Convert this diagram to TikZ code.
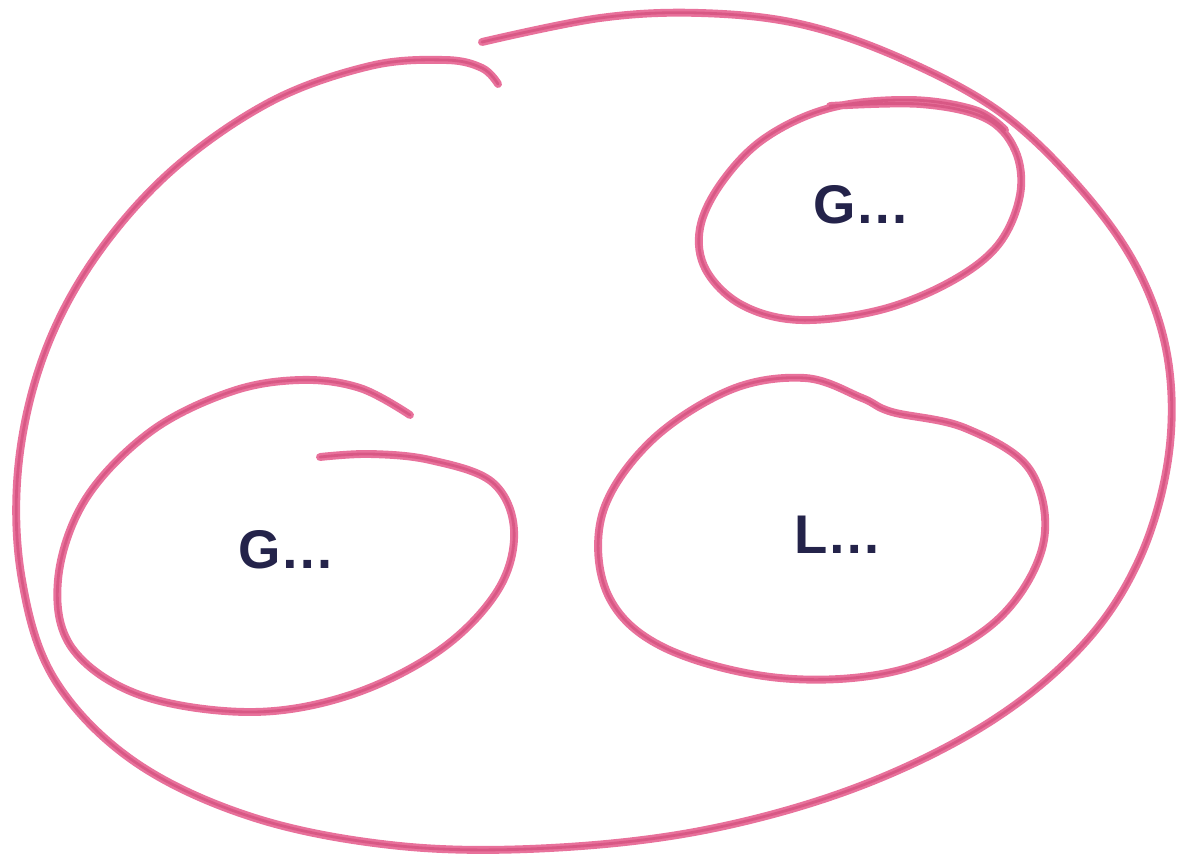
\documentclass[tikz,border=0pt]{standalone}
\usepackage{fontspec}
\setmainfont{Liberation Sans}
\usepackage{xcolor}
\definecolor{crayon}{RGB}{222,52,112}
\definecolor{inkblue}{RGB}{36,35,74}
\tikzset{
  pencil/.style={crayon, line width=4.5pt, line cap=round, line join=round, opacity=0.7},
  pencilcore/.style={crayon!85!black, line width=1.6pt, line cap=round, opacity=0.35},
  setlabel/.style={inkblue, font=\fontsize{31}{32}\selectfont\bfseries}
}

\begin{document}
\begin{tikzpicture}[x=0.02cm, y=-0.02cm]
        \useasboundingbox (0,0) rectangle (1179,856);

        % outer set
        \draw[pencil] plot[smooth, tension=0.6] coordinates {(482,42) (600,18) (700,13) (800,24) (900,58) (1000,112) (1080,188) (1138,270) (1168,360) (1168,460) (1138,562) (1080,648) (985,725) (855,788) (705,830) (550,848) (400,846) (255,818) (135,762) (55,680) (22,580) (18,470) (42,360) (92,262) (170,172) (270,102) (370,66) (445,60) (482,68) (498,84)};
        \draw[pencilcore] plot[smooth, tension=0.6] coordinates {(482,42) (600,18) (700,13) (800,24) (900,58) (1000,112) (1080,188) (1138,270) (1168,360) (1168,460) (1138,562) (1080,648) (985,725) (855,788) (705,830) (550,848) (400,846) (255,818) (135,762) (55,680) (22,580) (18,470) (42,360) (92,262) (170,172) (270,102) (370,66) (445,60) (482,68) (498,84)};

        % top right set
        \draw[pencil] plot[smooth, tension=0.6] coordinates {(830,106) (920,104) (985,118) (1015,150) (1020,195) (998,245) (950,282) (880,310) (800,320) (742,305) (706,270) (700,228) (722,182) (765,138) (830,108) (910,100) (975,110) (1005,130)};
        \draw[pencilcore] plot[smooth, tension=0.6] coordinates {(830,106) (920,104) (985,118) (1015,150) (1020,195) (998,245) (950,282) (880,310) (800,320) (742,305) (706,270) (700,228) (722,182) (765,138) (830,108) (910,100) (975,110) (1005,130)};
        \node[setlabel] (gtop) at (862,205) {G…};

        % bottom left set
        \draw[pencil] plot[smooth, tension=0.6] coordinates {(410,415) (360,388) (300,380) (230,392) (150,432) (85,500) (58,580) (72,648) (140,695) (250,712) (350,695) (440,650) (498,590) (514,530) (492,482) (430,460) (370,454) (320,457)};
        \draw[pencilcore] plot[smooth, tension=0.6] coordinates {(410,415) (360,388) (300,380) (230,392) (150,432) (85,500) (58,580) (72,648) (140,695) (250,712) (350,695) (440,650) (498,590) (514,530) (492,482) (430,460) (370,454) (320,457)};
        \node[setlabel] (gleft) at (287,550) {G…};

        % bottom right set
        \draw[pencil] plot[smooth cycle, tension=0.6] coordinates {(862,398) (805,378) (730,390) (650,442) (602,515) (608,595) (665,648) (780,678) (900,670) (995,622) (1043,545) (1030,470) (965,428) (892,412)};
        \draw[pencilcore] plot[smooth cycle, tension=0.6] coordinates {(862,398) (805,378) (730,390) (650,442) (602,515) (608,595) (665,648) (780,678) (900,670) (995,622) (1043,545) (1030,470) (965,428) (892,412)};
        \node[setlabel] (lright) at (838,535) {L…};
\end{tikzpicture}
\end{document}
